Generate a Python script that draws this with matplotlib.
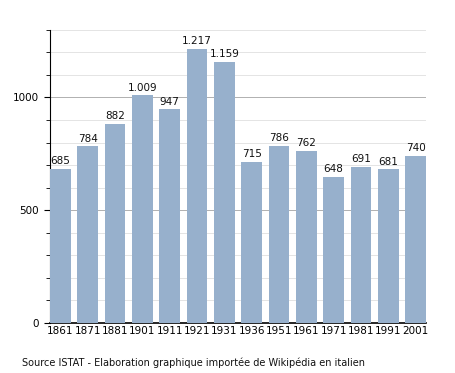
import matplotlib.pyplot as plt
from matplotlib.ticker import MultipleLocator

# population by census year
years = ['1861', '1871', '1881', '1901', '1911', '1921', '1931', '1936',
         '1951', '1961', '1971', '1981', '1991', '2001']
population = [685, 784, 882, 1009, 947, 1217, 1159, 715, 786, 762, 648, 691, 681, 740]

def fmt(v):
    return f"{v:,}".replace(',', '.')

fig = plt.figure(figsize=(4.55, 3.73), dpi=100)
ax = fig.add_axes([0.110, 0.134, 0.826, 0.786])

x = range(len(years))
bars = ax.bar(x, population, width=0.75, color='#97b0cc', zorder=3)

for xi, v in zip(x, population):
    ax.text(xi, v + 12, fmt(v), ha='center', va='bottom', fontsize=7.5, color='#111111')

ax.set_xlim(-0.375, len(years) - 0.625)
ax.set_ylim(0, 1300)
ax.set_xticks(list(x))
ax.set_xticklabels(years, fontsize=7.5)
ax.set_yticks([0, 500, 1000])
ax.set_yticklabels(['0', '500', '1000'], fontsize=7.5)
ax.yaxis.set_minor_locator(MultipleLocator(100))

ax.grid(axis='y', which='minor', color='#e4e4e4', linewidth=0.7, zorder=0)
ax.grid(axis='y', which='major', color='#b0b0b0', linewidth=0.7, zorder=1)

for s in ['top', 'right']:
    ax.spines[s].set_visible(False)
ax.spines['left'].set_linewidth(0.8)
ax.spines['bottom'].set_linewidth(1.2)
ax.tick_params(axis='x', length=0, pad=2)
ax.tick_params(axis='y', which='major', length=4, width=0.8, pad=4)
ax.tick_params(axis='y', which='minor', length=3, width=0.6)

fig.text(0.048, 0.02, 'Source ISTAT - Elaboration graphique importée de Wikipédia en italien',
         fontsize=7, color='#111111')

fig.savefig('out.png', dpi=100)
